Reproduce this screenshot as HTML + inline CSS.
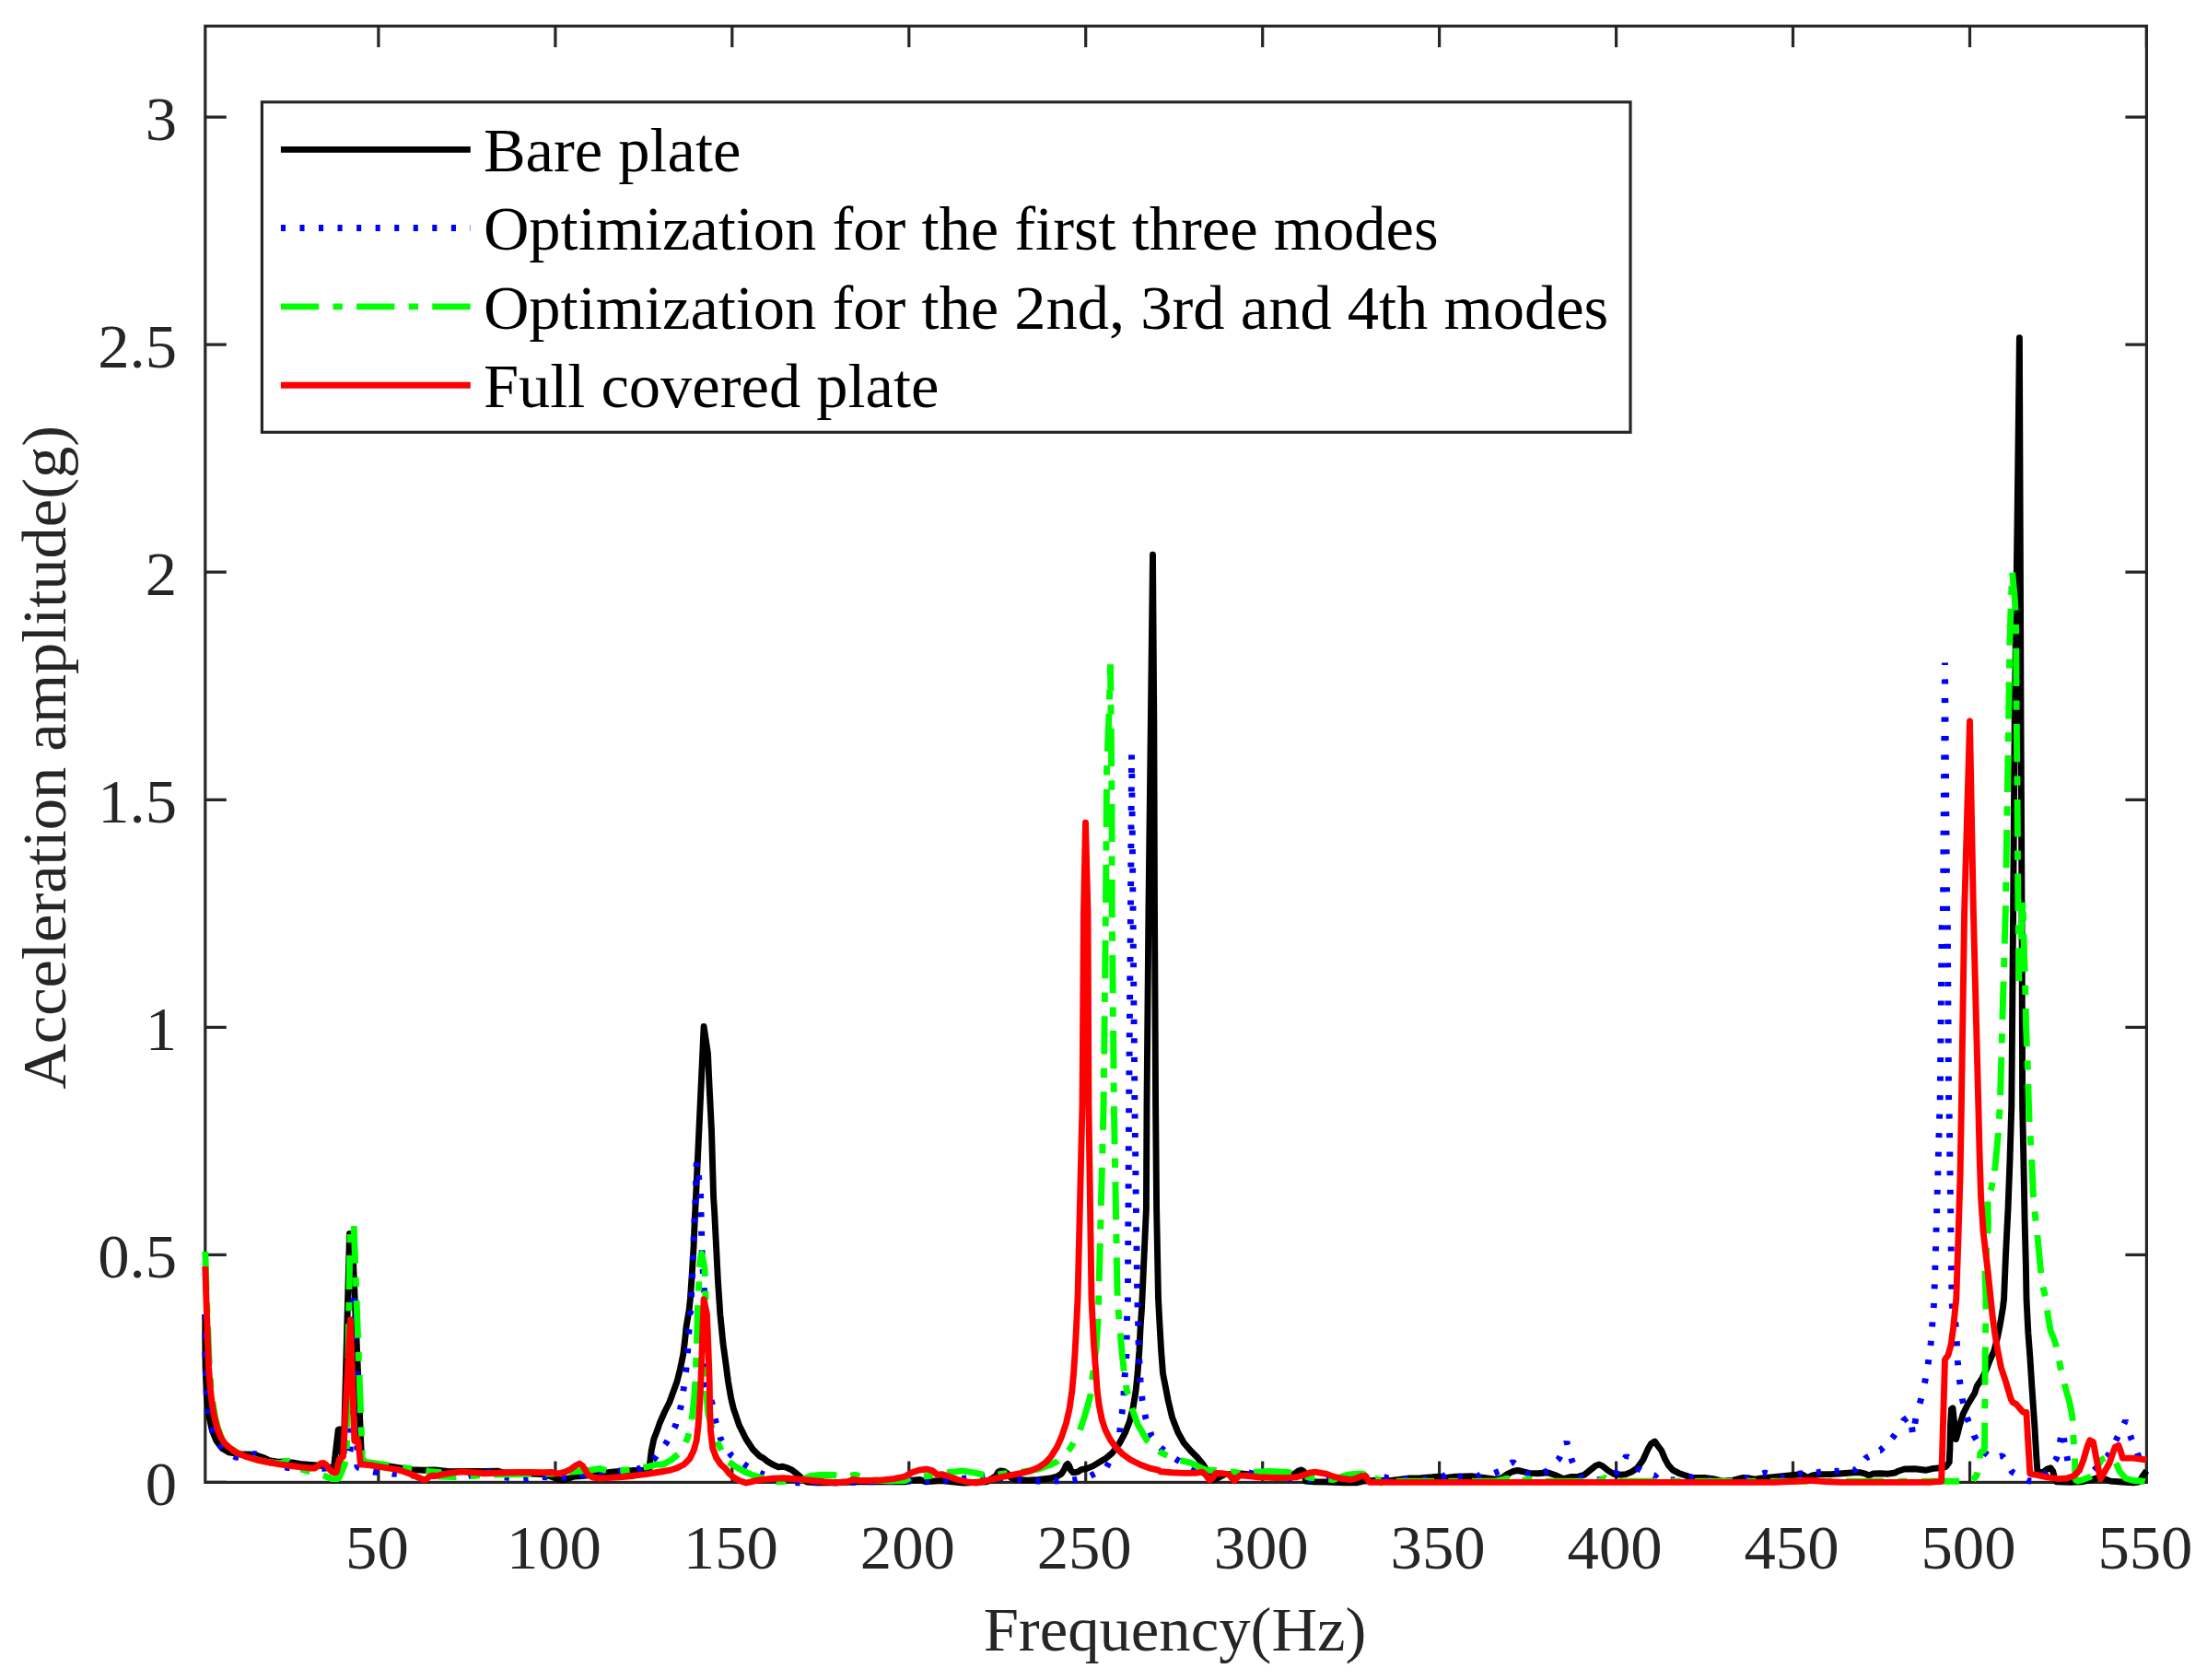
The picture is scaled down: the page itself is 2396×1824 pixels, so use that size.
<!DOCTYPE html>
<html lang="en"><head><meta charset="utf-8"><title>Acceleration amplitude vs Frequency</title>
<style>html,body{margin:0;padding:0;background:#fff}body{width:2396px;height:1824px;overflow:hidden}svg{display:block}text{font-family:"Liberation Serif",serif}.tk{font-size:68.7px;fill:#262626}.lb{font-size:68.7px;fill:#262626}.lg{font-size:68.5px;fill:#000}.c{fill:none;stroke-linejoin:round;stroke-linecap:butt}</style></head><body>
<svg width="2396" height="1824" viewBox="0 0 2396 1824">
<rect x="0" y="0" width="2396" height="1824" fill="#fff"/>
<g stroke="#262626" stroke-width="3.2" fill="none" stroke-linecap="butt">
<rect x="222.8" y="28.3" width="2107.6" height="1581.1"/>
<path d="M410.9 1609.4V1586.4M410.9 28.3V51.3M602.9 1609.4V1586.4M602.9 28.3V51.3M794.8 1609.4V1586.4M794.8 28.3V51.3M986.8 1609.4V1586.4M986.8 28.3V51.3M1178.7 1609.4V1586.4M1178.7 28.3V51.3M1370.7 1609.4V1586.4M1370.7 28.3V51.3M1562.6 1609.4V1586.4M1562.6 28.3V51.3M1754.6 1609.4V1586.4M1754.6 28.3V51.3M1946.5 1609.4V1586.4M1946.5 28.3V51.3M2138.5 1609.4V1586.4M2138.5 28.3V51.3M2330.4 1609.4V1586.4M2330.4 28.3V51.3M222.8 1609.4H245.8M2330.4 1609.4H2307.4M222.8 1362.4H245.8M2330.4 1362.4H2307.4M222.8 1115.3H245.8M2330.4 1115.3H2307.4M222.8 868.3H245.8M2330.4 868.3H2307.4M222.8 621.2H245.8M2330.4 621.2H2307.4M222.8 374.2H245.8M2330.4 374.2H2307.4M222.8 127.1H245.8M2330.4 127.1H2307.4"/>
</g>
<g class="c">
<path d="M222.8 1426.9L222.8 1460.0L223.1 1485.0L224.4 1516.2L226.9 1537.5L230.6 1553.8L235.0 1564.4L241.2 1572.5L248.8 1576.9L260.0 1579.0L270.0 1579.0L277.5 1579.8L285.0 1582.2L292.5 1585.6L301.2 1587.2L310.0 1586.9L318.8 1588.1L328.8 1589.8L341.2 1590.6L347.5 1591.2L353.8 1592.2L360.0 1593.8L362.2 1594.8L367.2 1552.5L368.5 1551.9L369.2 1555.0L370.2 1572.5L371.6 1580.2L373.1 1577.5L379.5 1339.5L382.5 1346.0L392.5 1584.0L397.5 1588.1L410.0 1590.0L435.0 1593.8L447.5 1595.6L460.0 1596.2L472.5 1596.0L485.9 1597.5L488.5 1597.8L501.0 1597.5L526.0 1597.5L541.0 1597.2L546.0 1598.8L588.5 1600.6L598.5 1603.1L606.0 1606.2L611.0 1606.9L616.0 1605.6L623.5 1603.1L632.2 1602.5L638.5 1601.9L651.0 1600.0L663.5 1598.1L676.0 1597.2L688.5 1596.5L698.5 1596.2L704.8 1595.0L706.0 1585.0L707.2 1575.0L709.8 1562.5L713.5 1553.0L716.2 1545.0L721.5 1533.0L726.8 1522.5L731.0 1511.0L735.0 1500.0L738.5 1486.0L741.8 1470.0L743.6 1455.0L745.1 1440.0L748.1 1422.5L749.4 1410.0L751.2 1383.8L753.1 1352.5L754.4 1321.0L755.5 1300.0L764.1 1114.4L768.5 1143.8L770.0 1177.5L772.5 1227.5L774.6 1300.0L775.6 1315.0L777.5 1352.5L779.4 1390.0L781.9 1427.5L785.0 1458.8L788.1 1481.2L790.5 1500.0L793.8 1518.8L796.2 1528.8L802.5 1547.5L810.0 1562.5L817.5 1573.8L825.0 1581.2L828.8 1583.1L832.5 1586.2L838.8 1590.0L845.0 1592.8L850.0 1592.2L855.0 1593.8L860.0 1596.2L865.0 1600.0L870.0 1604.4L873.8 1607.5L876.2 1609.0L888.8 1609.8L907.5 1609.8L932.5 1608.8L957.5 1608.8L982.5 1608.8L990.0 1607.2L998.8 1606.5L1005.0 1608.8L1021.2 1607.5L1033.8 1608.8L1046.2 1610.0L1071.2 1608.8L1081.2 1602.5L1083.8 1598.1L1086.2 1596.9L1090.0 1597.5L1093.8 1600.0L1097.5 1604.4L1102.5 1606.2L1115.0 1607.2L1127.5 1606.5L1140.0 1605.0L1147.5 1603.1L1152.5 1600.0L1155.6 1595.0L1157.5 1590.6L1159.0 1589.4L1160.6 1591.2L1162.5 1596.2L1165.0 1598.8L1170.0 1598.1L1173.8 1595.6L1180.0 1594.4L1186.2 1591.9L1192.5 1588.1L1200.0 1583.8L1207.5 1577.5L1215.0 1567.5L1221.2 1556.2L1226.2 1543.8L1230.0 1528.8L1233.1 1510.0L1235.0 1491.2L1236.9 1466.2L1238.1 1441.2L1239.4 1422.5L1240.0 1410.0L1244.4 1312.5L1245.0 1200.0L1246.9 990.0L1249.4 780.0L1251.5 602.2L1252.8 780.0L1253.5 990.0L1254.6 1200.0L1255.6 1312.5L1257.5 1410.0L1258.8 1435.0L1260.6 1466.2L1262.5 1491.2L1268.1 1520.0L1272.5 1538.8L1278.8 1555.0L1285.0 1566.2L1292.5 1575.0L1300.0 1582.5L1306.2 1590.0L1310.0 1596.2L1313.8 1603.1L1318.8 1606.2L1323.8 1603.8L1330.0 1600.6L1347.5 1600.0L1360.0 1601.2L1372.5 1603.1L1385.0 1604.4L1397.5 1604.0L1403.8 1601.2L1408.8 1597.5L1412.5 1595.9L1415.6 1597.5L1416.9 1602.5L1417.5 1608.1L1426.2 1608.8L1441.2 1609.0L1460.0 1609.8L1472.5 1609.8L1480.0 1608.1L1487.5 1607.5L1510.0 1607.5L1530.0 1605.0L1542.5 1604.8L1555.0 1603.8L1561.2 1603.1L1570.0 1604.4L1580.0 1603.1L1598.8 1602.8L1611.2 1604.4L1623.8 1606.2L1630.0 1605.0L1636.2 1600.6L1642.5 1597.5L1647.5 1596.5L1652.5 1597.5L1660.0 1599.4L1670.0 1599.8L1680.0 1598.8L1687.5 1601.2L1697.5 1605.6L1705.0 1603.5L1713.8 1603.1L1720.0 1601.2L1726.2 1596.2L1732.5 1591.2L1736.2 1590.0L1740.0 1591.9L1746.2 1596.9L1752.5 1600.6L1758.8 1601.2L1765.0 1600.6L1771.2 1598.1L1777.5 1593.8L1783.8 1585.0L1788.8 1573.8L1792.5 1567.5L1796.5 1565.0L1800.0 1570.0L1803.8 1575.0L1807.5 1583.8L1811.2 1590.6L1816.2 1596.2L1822.5 1599.4L1830.0 1601.9L1837.5 1604.4L1850.0 1604.4L1860.0 1605.6L1870.0 1608.1L1880.0 1607.5L1887.5 1605.6L1892.5 1604.4L1898.8 1605.0L1905.0 1606.2L1912.5 1605.0L1925.0 1603.8L1937.5 1602.5L1950.0 1601.2L1956.2 1600.6L1962.5 1604.4L1967.5 1601.9L1975.0 1600.6L1987.5 1600.6L2000.0 1599.8L2012.5 1598.8L2020.0 1598.8L2025.0 1600.0L2028.8 1601.9L2033.8 1600.0L2041.2 1599.8L2050.0 1600.2L2057.5 1599.0L2060.0 1597.5L2067.5 1595.0L2078.8 1594.8L2091.2 1596.2L2098.8 1594.4L2106.2 1593.8L2112.5 1592.5L2116.2 1587.5L2116.9 1572.5L2117.5 1547.5L2118.5 1530.0L2120.0 1528.8L2121.9 1547.5L2123.5 1562.5L2125.0 1557.5L2127.5 1547.5L2131.2 1535.0L2136.2 1525.0L2140.0 1518.8L2143.8 1512.5L2146.2 1505.0L2151.2 1497.5L2156.2 1487.5L2160.0 1477.5L2165.0 1466.2L2168.8 1451.2L2171.9 1435.0L2174.4 1420.0L2175.6 1410.0L2177.5 1362.5L2180.0 1312.5L2181.9 1262.5L2183.8 1200.0L2185.6 990.0L2187.2 780.0L2190.0 570.0L2192.4 366.8L2193.2 570.0L2194.0 780.0L2195.0 990.0L2195.6 1200.0L2196.9 1262.5L2198.1 1325.0L2199.4 1375.0L2200.0 1410.0L2201.9 1447.5L2203.8 1472.5L2206.2 1510.0L2208.8 1547.5L2210.6 1578.8L2211.9 1597.5L2217.5 1598.8L2222.5 1595.0L2226.2 1593.8L2228.8 1597.5L2230.6 1605.0L2232.5 1608.8L2247.5 1609.4L2260.0 1608.8L2272.5 1606.2L2280.0 1603.1L2285.0 1605.6L2291.2 1608.1L2303.8 1609.0L2316.2 1609.8L2322.5 1608.8L2326.2 1602.5L2330.4 1596.9" stroke="#000" stroke-width="6.9"/>
<path d="M222.8 1427.0L222.8 1432.1M222.8 1447.6L222.8 1452.7M222.9 1468.1L222.9 1473.2M223.3 1488.7L223.5 1493.8M224.1 1509.2L224.3 1514.3M226.0 1529.7L226.6 1534.8M229.7 1549.9L230.6 1553.8L231.1 1554.8M238.1 1568.4L241.2 1572.5M254.0 1581.0L256.2 1582.2L258.7 1581.9M273.3 1579.2L276.9 1578.5L278.0 1579.1M291.0 1586.4L295.3 1588.8M309.5 1592.9L311.9 1593.5L314.4 1593.5M329.5 1593.7L334.5 1593.6M349.5 1594.3L350.6 1594.4L354.5 1594.1M369.0 1590.4L370.0 1590.0L373.5 1588.4M380.0 1575.7L380.2 1575.0L380.3 1570.7M380.6 1555.6L380.7 1550.6M381.0 1535.5L381.2 1530.6M381.5 1515.5L381.6 1510.5M381.9 1495.4L382.0 1490.4M382.3 1475.3L382.4 1470.3M382.8 1455.3L382.9 1450.3M383.2 1435.2L383.3 1430.2M383.6 1415.1L383.7 1410.1M384.2 1409.0L384.4 1413.9M385.0 1429.0L385.2 1434.0M385.8 1449.1L386.0 1454.1M386.6 1469.1L386.8 1474.1M387.4 1489.2L387.4 1490.0L387.4 1494.2M387.5 1509.3L387.5 1514.3M387.6 1529.4L387.6 1534.3M387.7 1549.4L387.7 1554.4M387.8 1569.5L387.8 1574.6M387.9 1590.1L387.9 1593.0L390.1 1593.6M405.1 1598.0L405.6 1598.1L410.2 1598.5M425.7 1599.9L426.2 1600.0L430.8 1600.4M446.3 1601.9L451.4 1602.0M467.0 1602.3L472.2 1602.4M487.7 1602.7L492.9 1602.8M508.4 1602.8L513.3 1601.2M528.2 1597.2L533.0 1598.9M547.8 1603.8L552.9 1604.5M568.3 1605.8L573.4 1605.1M588.9 1603.6L594.0 1603.7M609.6 1604.0L614.7 1604.0M630.1 1602.4L635.0 1601.0M650.2 1598.0L655.3 1597.8M670.9 1597.1L676.0 1596.7M691.4 1594.9L694.8 1594.4L696.2 1593.4M709.1 1584.6L710.4 1583.8L712.6 1580.8M721.9 1568.4L723.5 1566.2L724.7 1564.1M732.0 1550.3L733.5 1547.5L734.0 1545.6M738.2 1530.6L739.1 1527.5L739.4 1525.6M741.8 1510.2L742.2 1507.5L742.5 1505.2M744.5 1489.7L744.8 1487.5L745.0 1484.6M746.4 1469.1L746.6 1466.9L746.8 1463.9M747.7 1448.4L747.9 1446.2L748.1 1443.3M749.0 1427.7L749.1 1425.6L749.6 1425.6L749.7 1423.1M750.5 1408.0L750.7 1403.0M751.4 1387.8L751.6 1384.6L751.7 1382.8M752.2 1367.7L752.4 1362.7M753.0 1347.5L753.1 1343.8L753.2 1342.5M753.9 1327.4L754.1 1322.4M754.8 1307.3L755.0 1302.5L755.0 1302.3M755.5 1287.1L755.6 1282.1M756.1 1267.0L756.3 1262.0M758.4 1276.0L758.5 1277.0L758.9 1281.0M760.4 1296.1L760.6 1298.0L760.7 1301.1M761.0 1316.2L761.2 1321.3M761.6 1336.7L761.7 1341.8M762.1 1357.2L762.1 1359.0L762.3 1362.3M763.1 1377.7L763.4 1382.8M764.3 1398.1L764.4 1400.0L764.4 1403.2M764.6 1418.6L764.7 1423.7M764.9 1439.2L764.9 1444.2M765.1 1459.7L765.2 1464.7M765.4 1480.2L765.4 1481.0L765.6 1485.2M766.4 1500.6L766.5 1503.1L767.3 1505.6M772.0 1520.3L773.1 1523.8L773.4 1525.2M776.3 1540.3L776.9 1543.1L777.5 1545.3M781.8 1560.1L782.5 1562.5L783.8 1564.6M792.0 1577.3L793.8 1580.0L795.2 1581.0M807.5 1589.5L810.0 1591.2L811.7 1592.2M825.1 1599.1L828.1 1600.6L829.6 1601.1M844.1 1605.3L848.9 1606.7M863.7 1609.3L866.2 1609.8L868.6 1609.8M883.7 1609.8L888.7 1609.8M903.9 1609.8L907.5 1609.8L908.9 1609.7M924.0 1609.3L929.0 1609.2M944.1 1608.8L947.5 1608.8L949.1 1608.7M964.2 1608.5L969.2 1608.4M984.3 1608.2L988.8 1608.1L989.2 1608.4M1004.3 1608.3L1009.3 1608.1M1024.4 1607.6L1027.5 1607.5L1029.4 1607.3M1044.4 1605.5L1049.3 1604.9M1064.4 1603.2L1069.3 1602.6M1084.3 1604.3L1089.3 1604.9M1104.3 1606.4L1109.3 1606.9M1124.4 1608.1L1129.4 1608.0M1144.5 1607.8L1149.5 1607.7M1164.5 1607.1L1169.4 1606.0M1184.0 1602.3L1188.4 1600.0M1201.5 1592.6L1203.8 1588.2M1210.4 1574.6L1211.7 1569.8M1215.6 1555.1L1215.6 1555.0L1216.2 1550.2M1218.0 1535.2L1218.1 1534.4L1218.5 1530.2M1219.9 1515.2L1220.0 1513.8L1220.2 1510.2M1221.1 1495.1L1221.2 1493.1L1221.5 1490.1M1222.6 1475.0L1222.8 1472.5L1222.8 1470.0M1223.2 1454.6L1223.2 1452.5L1223.3 1449.5M1223.5 1434.0L1223.5 1431.9L1223.6 1428.9M1224.3 1413.5L1224.4 1411.2L1224.4 1408.4M1224.5 1393.0L1224.5 1387.9M1224.6 1372.5L1224.6 1367.4M1224.7 1352.0L1224.7 1346.9M1224.8 1331.5L1224.9 1326.4M1225.0 1310.9L1225.0 1305.8M1225.1 1290.4L1225.1 1285.3M1225.2 1269.9L1225.2 1264.8M1225.3 1249.4L1225.3 1244.3M1225.4 1228.9L1225.5 1223.8M1225.6 1208.3L1225.6 1203.3M1225.7 1187.8L1225.8 1182.7M1225.9 1167.3L1225.9 1162.2M1226.1 1146.8L1226.1 1141.7M1226.2 1126.3L1226.3 1121.2M1226.4 1105.8L1226.5 1100.7M1226.6 1085.2L1226.6 1080.1M1226.8 1064.7L1226.8 1059.6M1227.0 1044.2L1227.0 1039.1M1227.1 1023.7L1227.2 1018.6M1227.3 1003.2L1227.4 998.1M1227.5 982.6L1227.5 982.5L1227.5 977.5M1227.6 962.1L1227.7 957.0M1227.8 941.6L1227.8 936.5M1227.9 921.1L1227.9 916.0M1228.0 900.6L1228.0 895.5M1228.1 880.0L1228.2 875.0M1228.3 859.5L1228.3 854.4M1228.4 839.0L1228.4 836.0L1228.4 833.9M1228.5 819.5L1228.6 824.6M1228.7 840.0L1228.8 841.0L1228.8 845.1M1228.9 860.6L1229.0 865.7M1229.1 881.1L1229.1 886.2M1229.3 901.6L1229.3 906.7M1229.4 922.1L1229.5 927.2M1229.6 942.6L1229.7 947.7M1229.8 963.2L1229.8 968.3M1230.0 983.7L1230.0 986.0L1230.0 988.8M1230.2 1004.2L1230.2 1009.3M1230.3 1024.7L1230.4 1029.8M1230.5 1045.3L1230.6 1050.3M1230.7 1065.8L1230.8 1070.9M1230.9 1086.3L1230.9 1091.4M1231.1 1106.8L1231.1 1111.9M1231.3 1127.3L1231.3 1132.4M1231.4 1147.9L1231.5 1153.0M1231.6 1168.4L1231.7 1173.5M1231.8 1188.9L1231.8 1194.0M1232.0 1209.4L1232.1 1214.5M1232.3 1230.0L1232.4 1235.0M1232.6 1250.4L1232.7 1255.5M1232.9 1270.9L1232.9 1276.0M1233.1 1291.4L1233.2 1296.4M1233.4 1311.8L1233.5 1316.9M1233.7 1332.3L1233.8 1337.4M1234.0 1352.8L1234.0 1357.9M1234.3 1373.2L1234.3 1378.3M1234.5 1393.7L1234.6 1398.8M1234.9 1414.2L1235.1 1419.3M1235.6 1434.6L1235.6 1436.9L1235.7 1439.7M1236.0 1455.1L1236.0 1457.5L1236.1 1460.2M1236.8 1475.6L1236.9 1478.1L1237.0 1480.6M1237.9 1495.8L1238.1 1498.8L1238.3 1500.8M1239.7 1515.9L1240.0 1519.4L1240.3 1520.9M1243.1 1535.8L1243.8 1539.4L1244.2 1540.7M1248.8 1555.1L1250.0 1558.8L1250.7 1559.7M1259.9 1571.8L1260.0 1571.9L1264.0 1574.8M1276.2 1583.8L1278.8 1585.6L1280.4 1586.5M1293.9 1593.5L1296.2 1594.8L1298.6 1595.4M1314.0 1599.2L1319.2 1599.7M1335.1 1601.2L1340.3 1600.7M1356.1 1599.0L1356.2 1599.0L1361.2 1600.1M1376.8 1602.9L1382.1 1603.5M1397.9 1605.0L1403.1 1605.6M1418.9 1606.6L1424.2 1606.2M1439.9 1604.3L1445.1 1603.4M1460.7 1602.6L1465.8 1603.7M1481.6 1605.0L1485.0 1605.0L1486.8 1604.6M1502.3 1603.6L1507.3 1605.0M1523.0 1605.3L1528.2 1606.5M1544.0 1606.1L1549.2 1605.8M1564.8 1603.3L1567.5 1602.5L1569.5 1601.2M1582.8 1602.6L1587.7 1604.4M1602.8 1603.6L1607.3 1600.9M1622.4 1599.4L1627.3 1597.5M1640.5 1588.7L1642.5 1587.2L1644.5 1589.0M1656.6 1598.2L1658.1 1599.4L1661.2 1599.8M1676.0 1598.3L1678.8 1597.5L1680.3 1596.0M1691.0 1585.2L1692.5 1583.8L1693.7 1581.1M1700.1 1567.3L1701.0 1565.6L1701.9 1568.6M1705.9 1583.4L1706.5 1585.6L1707.6 1588.2M1714.9 1601.6L1716.2 1603.5L1718.8 1604.4M1733.7 1606.6L1736.2 1606.5L1738.7 1605.7M1752.8 1599.9L1755.0 1598.8L1756.4 1596.5M1764.2 1583.3L1765.6 1580.6L1766.8 1582.2M1777.1 1593.4L1778.1 1594.4L1781.3 1596.3M1795.3 1601.7L1796.2 1601.9L1798.9 1605.0M1813.6 1606.8L1816.2 1606.9L1818.6 1606.5M1833.7 1604.4L1836.2 1604.0L1838.7 1604.4M1853.8 1606.5L1856.2 1606.9L1858.8 1607.0M1874.1 1607.7L1876.2 1607.8L1879.1 1607.4M1894.2 1605.3L1896.2 1605.0L1899.1 1604.3M1913.7 1599.9L1916.2 1599.0L1918.5 1599.7M1932.8 1604.0L1934.4 1604.4L1937.6 1603.7M1952.1 1600.4L1953.5 1600.0L1957.0 1599.7M1971.9 1598.6L1973.8 1598.5L1976.8 1598.3M1991.7 1597.4L1993.8 1597.2L1996.6 1597.1M2011.5 1596.2L2014.0 1596.0L2015.6 1594.4M2025.0 1583.9L2025.6 1583.1L2028.8 1581.4M2041.1 1574.8L2041.2 1574.8L2044.5 1571.6M2054.1 1561.5L2055.6 1559.8L2057.2 1557.4M2066.0 1542.9L2066.2 1542.5L2070.3 1539.4M2075.6 1549.5L2076.3 1555.0M2078.9 1545.7L2079.8 1540.1M2084.2 1523.7L2085.6 1518.8L2085.7 1518.3M2089.4 1501.7L2090.0 1499.0L2090.4 1496.5M2093.1 1481.3L2093.5 1478.8L2093.8 1476.2M2095.9 1460.9L2096.2 1458.1L2096.4 1455.8M2097.6 1440.4L2097.8 1437.8L2097.9 1435.4M2099.2 1420.0L2099.4 1417.5L2099.5 1414.9M2100.1 1399.4L2100.2 1397.0L2100.3 1394.3M2100.8 1378.9L2100.9 1373.8M2101.4 1358.4L2101.5 1353.3M2102.0 1337.8L2102.1 1332.7M2102.6 1317.3L2102.7 1312.2M2103.2 1296.8L2103.3 1291.7M2103.8 1276.2L2103.9 1271.2M2104.3 1255.7L2104.5 1250.6M2104.9 1235.2L2105.1 1230.1M2105.5 1214.7L2105.6 1212.5L2105.7 1209.6M2106.2 1194.2L2106.2 1192.0L2106.3 1189.1M2106.4 1173.6L2106.5 1168.5M2106.6 1153.1L2106.7 1148.0M2106.8 1132.6L2106.9 1127.5M2107.0 1112.1L2107.1 1107.0M2107.3 1091.5L2107.3 1086.4M2107.5 1071.0L2107.5 1065.9M2107.7 1050.5L2107.7 1045.4M2107.9 1029.9L2107.9 1024.9M2108.1 1009.4L2108.1 1007.0L2108.3 1004.3M2109.4 988.9L2109.4 983.8M2109.6 968.4L2109.6 963.3M2109.7 947.9L2109.8 942.8M2109.9 927.4L2109.9 922.3M2110.0 906.8L2110.1 901.7M2110.2 886.3L2110.2 881.2M2110.4 865.8L2110.4 860.7M2110.5 845.2L2110.6 840.2M2110.7 824.7L2110.7 819.6M2110.8 804.2L2110.9 799.1M2111.0 783.7L2111.0 778.6M2111.2 763.1L2111.2 758.0M2111.3 742.6L2111.4 737.5M2111.5 722.1L2111.5 719.5L2111.5 722.0M2111.6 737.4L2111.7 742.5M2111.8 758.0L2111.9 763.1M2112.0 778.5L2112.0 783.6M2112.2 799.0L2112.2 804.1M2112.3 819.6L2112.4 824.7M2112.5 840.1L2112.5 845.2M2112.7 860.6L2112.7 865.7M2112.8 881.1L2112.9 886.2M2113.0 901.7L2113.1 906.8M2113.2 922.2L2113.2 927.3M2113.4 942.7L2113.4 947.8M2113.5 963.3L2113.6 968.3M2113.7 983.8L2113.7 988.9M2114.3 1004.3L2114.4 1007.0L2114.4 1009.4M2114.5 1024.8L2114.5 1029.9M2114.6 1045.4L2114.7 1050.4M2114.8 1065.9L2114.8 1071.0M2114.9 1086.4L2114.9 1091.5M2115.0 1106.9L2115.1 1112.0M2115.2 1127.5L2115.2 1132.6M2115.3 1148.0L2115.3 1153.1M2115.4 1168.5L2115.5 1173.6M2115.6 1189.0L2115.6 1192.0L2115.7 1194.1M2116.2 1209.6L2116.2 1212.5L2116.3 1214.7M2116.5 1230.1L2116.6 1235.2M2116.8 1250.6L2116.8 1255.7M2117.0 1271.1L2117.1 1276.2M2117.3 1291.7L2117.4 1296.8M2117.6 1312.2L2117.7 1317.3M2117.9 1332.8L2117.9 1337.9M2118.2 1353.4L2118.2 1358.6M2118.4 1374.1L2118.5 1379.2M2118.7 1394.7L2118.8 1397.0L2118.8 1399.8M2119.3 1415.3L2119.4 1418.1L2119.8 1420.4M2122.7 1435.6L2123.1 1438.1L2123.3 1440.7M2124.2 1456.2L2124.4 1458.8L2124.5 1461.3M2125.3 1477.1L2125.4 1478.8L2125.7 1482.2M2127.3 1497.9L2127.5 1499.4L2128.1 1503.0M2130.4 1518.6L2130.6 1520.0L2131.5 1523.6M2135.4 1538.9L2135.6 1539.6L2137.2 1543.7M2143.0 1558.4L2143.1 1558.8L2145.6 1562.8M2153.8 1576.3L2157.8 1579.6M2171.3 1581.5L2173.8 1580.6L2175.1 1582.8M2183.1 1596.1L2184.4 1598.1L2186.7 1599.4M2200.3 1607.0L2201.2 1607.5L2205.2 1608.1M2218.0 1601.6L2221.2 1598.8L2221.7 1598.1M2231.0 1585.7L2232.5 1583.8L2233.1 1581.2M2236.3 1566.0L2237.4 1561.1M2240.4 1561.3L2241.3 1566.2M2243.9 1581.1L2244.8 1586.0M2254.4 1596.6L2259.0 1598.4M2273.5 1596.4L2276.9 1592.7M2287.2 1581.6L2288.8 1580.0L2290.0 1577.6M2297.0 1564.1L2298.1 1561.9L2299.2 1559.6M2305.9 1545.7L2307.5 1542.5L2308.0 1543.9M2312.7 1558.6L2313.8 1561.9L2314.4 1563.4M2320.3 1577.6L2321.2 1580.0L2322.6 1582.2" stroke="#00f" stroke-width="6.9" stroke-linejoin="bevel"/>
<path d="M222.8 1358.8L224.1 1399.8M224.6 1415.0L225.1 1425.3M225.7 1440.5L226.4 1460.0L227.3 1481.5M228.4 1496.7L229.0 1505.0L229.2 1506.9M230.8 1522.0L230.9 1522.5L233.4 1537.5L236.4 1550.0L240.0 1560.0L241.0 1561.6M251.1 1572.8L256.9 1576.9L259.8 1578.2M274.1 1583.3L278.8 1584.8L291.2 1587.5L303.8 1588.8L312.5 1586.0L313.8 1587.0M326.5 1595.0L332.5 1596.9L336.4 1597.7M351.0 1602.0L352.5 1602.5L360.0 1605.6L367.5 1605.6L371.2 1597.5L375.3 1586.8M376.4 1573.0L376.6 1563.6M376.8 1549.7L377.4 1512.1M377.6 1498.2L377.7 1488.8M377.9 1474.9L378.5 1437.2M378.7 1423.3L378.9 1413.9M379.1 1400.0L379.6 1362.9M379.9 1349.2L380.0 1340.0L380.0 1340.0M384.2 1331.0L385.7 1371.7M386.2 1386.8L386.6 1396.9M387.1 1412.0L388.6 1452.7M389.2 1467.8L389.5 1477.9M390.1 1493.0L391.6 1534.0M392.1 1549.3L392.5 1559.5M393.1 1574.7L393.5 1587.0L397.5 1587.5L416.2 1590.0L422.1 1590.9M437.1 1593.1L441.2 1593.8L447.2 1594.6M462.3 1596.9L466.2 1597.5L478.8 1598.8L476.0 1603.1L495.4 1603.6M510.6 1602.8L520.8 1601.8M536.0 1601.1L563.5 1600.6L577.0 1600.4M592.3 1600.1L601.0 1600.0L602.5 1599.8M617.7 1598.3L626.0 1597.5L642.2 1596.0L651.0 1594.4L657.2 1596.2L658.2 1596.4M673.3 1596.7L676.0 1596.5L683.5 1595.6M698.5 1593.2L701.0 1592.8L713.5 1590.0L720.0 1590.0L728.8 1585.0L736.1 1578.9M744.3 1566.0L746.9 1560.0L747.8 1556.3M750.9 1541.3L751.9 1535.0L753.8 1516.2L754.8 1499.9M755.5 1484.5L755.6 1480.0L755.9 1474.1M756.5 1458.7L756.5 1457.5L757.5 1418.8L757.6 1417.1M758.5 1401.7L758.9 1391.3M759.6 1375.9L761.2 1360.6L761.9 1360.6L765.0 1377.5L765.3 1385.9M765.8 1401.3L766.0 1408.8L766.0 1411.6M766.0 1427.1L766.0 1468.7M766.0 1484.1L766.0 1490.0L766.1 1494.5M766.5 1509.9L766.5 1510.0L768.8 1535.0L773.0 1550.9M778.7 1565.1L780.0 1568.1L783.1 1574.6M791.2 1587.5L800.0 1593.1L807.5 1597.5L816.2 1601.2L823.8 1603.5L828.1 1604.9M842.9 1608.3L845.0 1608.8L853.1 1608.3M868.3 1607.0L870.0 1606.9L880.0 1602.5L892.5 1601.2L905.0 1601.5L908.3 1602.1M923.3 1602.2L928.8 1601.2L933.1 1603.0M947.7 1607.0L963.8 1607.8L982.5 1607.5L987.9 1604.4M1002.8 1602.7L1007.5 1602.5L1012.9 1601.5M1027.9 1598.9L1028.8 1598.8L1045.0 1596.9L1057.5 1598.8L1067.5 1601.2L1068.4 1601.3M1083.5 1601.0L1090.0 1600.0L1093.6 1599.6M1108.8 1598.1L1127.5 1595.0L1140.0 1590.6L1147.5 1586.9L1148.5 1585.9M1159.6 1575.0L1161.9 1572.5L1165.3 1566.3M1172.5 1552.5L1177.5 1537.5L1181.2 1525.0L1183.8 1515.0L1184.0 1513.1M1185.7 1498.0L1186.2 1493.8L1187.0 1487.9M1188.9 1472.8L1190.0 1463.8L1192.1 1433.8L1192.2 1431.9M1192.6 1416.7L1192.8 1410.0L1192.8 1406.4M1193.2 1391.2L1194.3 1349.9M1194.7 1334.6L1194.9 1324.3M1195.3 1309.0L1196.4 1267.7M1196.8 1252.4L1197.0 1242.1M1197.4 1226.8L1198.1 1200.0L1198.3 1185.4M1198.4 1170.1L1198.5 1159.8M1198.7 1144.5L1199.2 1103.2M1199.3 1087.9L1199.4 1077.6M1199.6 1062.3L1200.1 1020.9M1200.2 1005.6L1200.3 995.3M1200.5 980.0L1200.8 938.8M1200.9 923.5L1201.0 913.2M1201.1 898.0L1201.4 856.7M1201.5 841.5L1201.5 837.0L1201.7 831.2M1202.3 815.9L1203.8 780.0L1203.9 774.8M1204.4 759.5L1204.7 749.2M1205.1 733.9L1205.5 721.4L1205.8 750.1M1206.0 765.3L1206.1 775.6M1206.3 790.9L1206.6 832.1M1206.8 847.4L1206.9 857.6M1207.0 872.9L1207.1 914.1M1207.1 929.4L1207.1 939.7M1207.2 955.0L1207.2 990.0L1207.3 996.2M1207.5 1011.4L1207.6 1021.7M1207.7 1037.0L1208.2 1078.2M1208.3 1093.5L1208.4 1103.8M1208.6 1119.0L1209.0 1160.2M1209.1 1175.5L1209.3 1185.8M1209.4 1201.1L1210.1 1242.3M1210.4 1257.5L1210.6 1267.8M1210.9 1283.1L1211.6 1324.4M1211.9 1339.7L1212.1 1350.0M1212.3 1365.4L1213.1 1406.7M1214.0 1422.0L1214.4 1426.2L1214.9 1432.2M1216.2 1447.5L1218.1 1468.8L1220.0 1486.2L1220.3 1488.7M1222.5 1503.9L1223.1 1508.8L1224.6 1514.0M1228.8 1528.8L1235.0 1546.2L1245.0 1563.8L1246.8 1565.5M1258.2 1575.5L1260.0 1576.9L1267.2 1580.5M1281.5 1585.7L1292.5 1588.1L1302.5 1593.1L1310.0 1596.2L1318.8 1596.5L1320.7 1596.7M1335.9 1597.9L1340.0 1598.1L1346.1 1599.3M1361.1 1598.1L1378.8 1597.5L1398.8 1598.5L1402.2 1599.3M1417.0 1603.0L1422.5 1604.4L1427.1 1604.8M1442.3 1606.1L1447.5 1606.5L1455.0 1603.8L1462.5 1601.2L1472.5 1600.2L1480.0 1600.0L1481.8 1601.8M1493.6 1606.1L1495.6 1605.0L1498.8 1610.0L1500.8 1609.7M1515.9 1608.2L1557.2 1608.2M1572.4 1608.2L1582.7 1608.2M1598.0 1608.2L1623.8 1608.2L1636.2 1605.0L1638.5 1606.2M1653.2 1607.9L1658.8 1605.4L1662.7 1606.9M1677.7 1608.2L1718.9 1608.2M1734.2 1608.2L1735.0 1608.2L1742.5 1604.4L1743.4 1604.9M1757.7 1608.2L1798.9 1608.2M1814.2 1608.2L1824.5 1608.2M1839.8 1608.2L1881.0 1608.2M1896.3 1608.2L1906.5 1608.2M1921.8 1608.2L1963.0 1608.2M1978.3 1608.2L1988.6 1608.2M2003.9 1608.2L2045.1 1608.2M2060.4 1608.2L2070.6 1608.2M2085.9 1608.2L2127.2 1608.2M2141.9 1607.3L2146.2 1601.2L2146.7 1598.4M2149.2 1583.4L2150.0 1576.9L2153.8 1575.0L2154.5 1571.2L2154.7 1544.6M2154.8 1529.3L2154.9 1519.0M2155.0 1503.8L2155.2 1472.5L2155.4 1462.4M2155.6 1447.1L2155.7 1436.8M2155.9 1421.5L2156.0 1410.0L2155.0 1381.0L2155.1 1380.2M2156.2 1364.9L2156.9 1354.6M2158.0 1339.4L2158.5 1330.0L2158.0 1304.5M2160.9 1292.3L2161.9 1290.0L2163.1 1283.9M2165.6 1271.2L2165.6 1271.0L2169.4 1230.6L2169.4 1230.1M2170.3 1214.8L2170.6 1210.0L2171.0 1204.5M2171.6 1189.2L2172.8 1147.8M2173.2 1132.5L2173.5 1122.2M2173.9 1106.9L2175.1 1065.5M2175.6 1050.2L2175.9 1039.9M2176.3 1024.6L2177.3 990.0L2177.4 983.3M2177.6 967.9L2177.8 957.6M2178.0 942.3L2178.7 901.0M2178.9 885.6L2179.1 875.3M2179.3 860.0L2180.0 820.0M2180.2 805.2L2180.4 795.2M2180.6 780.4L2180.6 780.0L2181.2 740.4M2181.4 725.6L2181.6 715.6M2181.8 700.8L2181.9 695.0L2183.0 660.8M2183.6 646.0L2184.0 636.0M2184.6 621.6L2186.9 645.0L2188.1 662.7M2188.5 678.0L2188.6 688.3M2188.7 703.7L2188.8 707.5L2189.0 745.0M2189.1 760.4L2189.1 770.7M2189.3 786.0L2189.7 827.2M2189.9 842.5L2190.0 850.0L2190.0 852.7M2190.1 868.0L2190.4 908.5M2190.4 923.5L2190.5 933.6M2190.6 948.6L2190.6 950.0L2191.0 989.1M2191.2 1004.1L2191.3 1014.2M2191.5 1029.3L2191.9 1065.0L2192.1 1060.2M2192.8 1045.3L2193.3 1035.2M2194.0 1020.2L2195.9 979.7M2196.3 989.3L2196.6 999.4M2197.0 1014.4L2197.5 1034.0L2198.2 1054.9M2198.6 1069.9L2198.8 1074.0L2198.9 1080.0M2199.2 1095.0L2199.6 1115.0L2200.5 1136.2M2201.1 1151.4L2201.2 1156.0L2201.4 1161.7M2201.8 1176.9L2202.5 1200.0L2203.1 1217.5L2203.1 1218.1M2204.1 1233.3L2204.4 1238.0L2204.7 1243.5M2205.6 1258.8L2207.5 1299.4L2207.6 1300.1M2209.0 1315.4L2209.4 1320.0L2210.1 1325.6M2211.9 1340.9L2211.9 1341.2L2215.6 1380.6L2215.8 1382.1M2218.1 1397.3L2218.8 1401.2L2220.5 1407.3M2222.5 1422.5L2222.5 1422.5L2224.4 1435.0L2226.2 1445.0L2229.4 1452.5L2231.9 1460.0L2232.4 1462.5M2235.5 1477.5L2236.2 1481.2L2237.7 1487.6M2241.2 1502.5L2243.8 1512.5L2246.2 1520.0L2248.8 1532.5L2250.0 1540.0L2250.1 1542.7M2250.8 1558.0L2251.0 1561.2L2251.5 1568.3M2252.5 1583.6L2252.5 1583.8L2253.1 1606.2L2255.0 1608.1L2260.0 1606.9L2270.0 1603.1L2270.1 1603.0M2278.4 1590.2L2281.2 1585.0L2285.1 1583.1M2297.2 1588.3L2301.2 1597.5L2307.5 1605.0L2316.2 1607.5L2322.5 1607.8L2328.6 1608.5" stroke="#0f0" stroke-width="6.9" stroke-linejoin="bevel"/>
<path d="M222.8 1375.0L223.9 1410.0L224.8 1435.0L225.6 1460.0L226.6 1485.0L228.1 1505.0L230.0 1522.5L232.5 1537.5L235.6 1550.0L239.4 1560.0L243.8 1566.9L250.0 1572.5L256.2 1576.9L266.2 1581.2L278.8 1585.0L291.2 1587.5L303.8 1589.8L316.2 1591.5L328.8 1593.1L337.5 1594.0L341.9 1594.0L345.0 1591.9L348.1 1589.0L351.2 1588.5L353.8 1590.0L356.9 1594.4L360.6 1598.1L363.8 1599.0L365.6 1597.5L366.9 1590.0L368.1 1585.0L370.6 1583.1L372.5 1581.2L380.4 1433.1L384.8 1564.4L386.2 1565.0L387.8 1561.9L389.0 1566.2L391.5 1590.0L395.0 1590.0L403.8 1591.0L416.2 1593.1L428.8 1595.2L435.0 1596.5L445.0 1600.0L453.8 1604.0L460.0 1606.5L462.5 1606.2L466.2 1603.1L470.0 1601.9L473.8 1602.5L478.8 1601.2L485.9 1599.8L488.5 1599.4L501.0 1597.9L513.5 1598.8L526.0 1599.8L538.5 1599.4L551.0 1598.8L563.5 1598.5L576.0 1598.5L588.5 1598.8L598.5 1598.5L606.0 1600.0L613.5 1598.1L619.8 1595.0L624.8 1591.2L629.1 1589.0L632.2 1591.2L635.4 1596.2L638.5 1601.2L643.5 1604.0L651.0 1605.0L663.5 1604.4L676.0 1603.5L688.5 1602.2L701.0 1600.6L713.5 1598.5L720.0 1597.5L727.5 1596.2L735.0 1593.8L742.5 1590.0L748.8 1583.8L753.1 1575.0L756.2 1563.8L758.1 1547.5L759.8 1522.5L761.0 1497.5L764.1 1410.6L767.5 1427.5L769.0 1465.0L770.2 1500.0L770.6 1528.8L771.5 1553.8L773.8 1572.5L777.5 1582.5L782.5 1590.0L787.5 1594.4L791.9 1600.0L796.2 1603.8L802.5 1607.5L810.0 1610.0L815.0 1608.8L823.8 1606.9L838.8 1605.2L851.2 1604.8L863.8 1605.6L882.5 1607.5L895.0 1608.8L907.5 1609.8L920.0 1608.8L926.2 1606.5L932.5 1607.5L945.0 1607.5L957.5 1606.9L970.0 1605.6L982.5 1603.1L990.0 1598.8L997.5 1596.2L1006.2 1595.0L1012.5 1596.9L1017.5 1601.2L1022.5 1600.6L1030.0 1603.1L1040.0 1606.5L1050.0 1608.8L1059.4 1610.0L1071.2 1607.5L1083.8 1604.4L1096.2 1601.9L1108.8 1599.4L1118.8 1596.9L1127.5 1593.1L1135.0 1588.1L1141.2 1581.2L1147.5 1571.2L1152.5 1560.0L1157.5 1545.0L1161.2 1528.8L1163.8 1510.0L1165.6 1491.2L1167.2 1466.2L1168.5 1441.2L1170.0 1410.0L1175.0 1200.0L1176.5 990.0L1178.5 893.1L1181.0 990.0L1181.9 1200.0L1185.0 1410.0L1186.2 1435.0L1187.5 1460.0L1189.4 1485.0L1191.2 1510.0L1193.1 1525.0L1196.2 1541.2L1200.0 1552.5L1205.0 1562.5L1211.2 1571.2L1218.8 1578.8L1227.5 1585.0L1237.5 1590.0L1247.5 1593.8L1257.5 1596.2L1260.0 1597.8L1272.5 1598.8L1285.0 1599.4L1297.5 1599.4L1305.0 1598.1L1308.8 1601.2L1313.1 1606.9L1316.2 1605.0L1320.0 1599.4L1327.5 1599.8L1333.8 1600.6L1336.9 1604.4L1340.0 1607.5L1343.1 1604.4L1346.2 1601.9L1355.0 1602.5L1366.2 1603.8L1385.0 1604.4L1397.5 1604.4L1407.5 1603.8L1416.2 1601.2L1422.5 1598.8L1427.5 1598.1L1435.0 1599.4L1441.2 1600.6L1447.5 1603.1L1455.0 1605.0L1466.2 1606.5L1472.5 1605.0L1477.5 1602.8L1482.5 1602.5L1485.0 1606.9L1487.0 1609.4L1925.0 1609.4L1950.0 1608.3L1965.0 1607.2L1981.0 1608.5L2000.0 1609.4L2095.0 1609.4L2103.0 1608.6L2107.7 1608.2L2111.5 1476.0L2115.0 1471.2L2118.1 1460.0L2120.6 1441.2L2122.5 1422.5L2123.8 1410.0L2126.2 1337.5L2128.1 1275.0L2129.4 1200.0L2132.6 990.0L2138.5 783.0L2142.4 990.0L2147.8 1200.0L2149.0 1250.0L2150.6 1300.0L2153.1 1337.5L2157.5 1375.0L2161.2 1410.0L2163.1 1428.8L2165.6 1447.5L2168.8 1466.2L2172.5 1485.0L2177.5 1500.0L2183.1 1518.8L2185.0 1522.5L2188.8 1524.4L2192.5 1528.8L2196.2 1533.1L2199.9 1533.5L2203.8 1600.0L2210.0 1601.2L2222.5 1603.8L2235.0 1605.6L2243.8 1605.0L2251.2 1602.5L2257.5 1596.2L2261.9 1585.0L2266.2 1570.0L2268.8 1563.8L2272.5 1565.6L2275.0 1578.8L2278.1 1595.0L2280.6 1605.6L2285.0 1597.5L2290.0 1588.8L2293.8 1577.5L2296.2 1571.2L2300.0 1569.4L2302.5 1576.2L2304.4 1583.1L2316.2 1583.1L2330.4 1585.0" stroke="#f00" stroke-width="6.9"/>
</g>
<g class="tk">
<text x="409.4" y="1702.5" text-anchor="middle">50</text>
<text x="601.4" y="1702.5" text-anchor="middle">100</text>
<text x="793.3" y="1702.5" text-anchor="middle">150</text>
<text x="985.3" y="1702.5" text-anchor="middle">200</text>
<text x="1177.2" y="1702.5" text-anchor="middle">250</text>
<text x="1369.2" y="1702.5" text-anchor="middle">300</text>
<text x="1561.1" y="1702.5" text-anchor="middle">350</text>
<text x="1753.1" y="1702.5" text-anchor="middle">400</text>
<text x="1945.0" y="1702.5" text-anchor="middle">450</text>
<text x="2137.0" y="1702.5" text-anchor="middle">500</text>
<text x="2328.9" y="1702.5" text-anchor="middle">550</text>
<text x="192" y="1633.9" text-anchor="end">0</text>
<text x="192" y="1386.9" text-anchor="end">0.5</text>
<text x="192" y="1139.8" text-anchor="end">1</text>
<text x="192" y="892.8" text-anchor="end">1.5</text>
<text x="192" y="645.7" text-anchor="end">2</text>
<text x="192" y="398.7" text-anchor="end">2.5</text>
<text x="192" y="151.6" text-anchor="end">3</text>
</g>
<text class="lb" x="1275.5" y="1791.5" text-anchor="middle">Frequency(Hz)</text>
<text class="lb" style="font-size:68.5px" transform="translate(70.5 822.3) rotate(-90)" text-anchor="middle">Acceleration amplitude(g)</text>
<rect x="284.4" y="110.8" width="1485.6" height="358.5" fill="#fff" stroke="#262626" stroke-width="3.2"/>
<g class="c" stroke-width="6.9">
<path d="M304.9 162.4H510.8" stroke="#000"/>
<path d="M304.9 247.5H510.8" stroke="#00f" stroke-dasharray="5.1 15.45"/>
<path d="M304.9 332.9H510.8" stroke="#0f0" stroke-dasharray="41.3 15.3 10.3 15.3"/>
<path d="M304.9 418.3H510.8" stroke="#f00"/>
</g>
<g class="lg">
<text x="524.9" y="186.2">Bare plate</text>
<text x="524.9" y="271.3">Optimization for the first three modes</text>
<text x="524.9" y="356.7">Optimization for the 2nd, 3rd and 4th modes</text>
<text x="524.9" y="442.1">Full covered plate</text>
</g>
</svg></body></html>
